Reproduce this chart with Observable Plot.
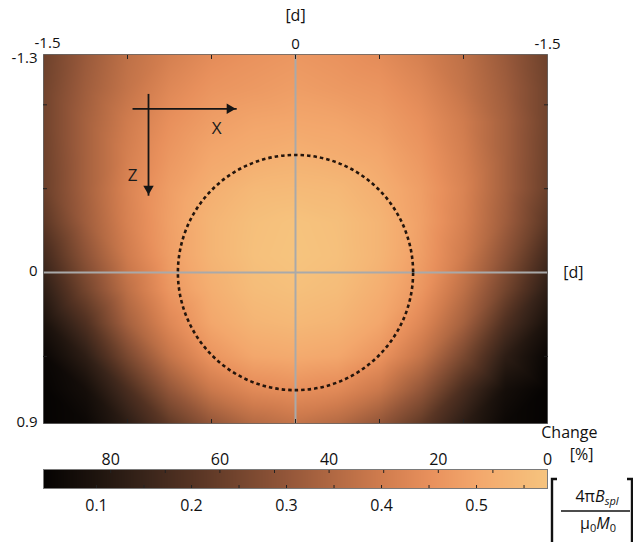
<!DOCTYPE html>
<html><head><meta charset="utf-8">
<script src="https://cdn.jsdelivr.net/npm/d3@7"></script>
<script src="https://cdn.jsdelivr.net/npm/@observablehq/plot@0.6"></script>
<style>
body{margin:0;background:#fff;font-family:"Open Sans",sans-serif}
#wrap{position:relative;width:633px;height:542px;overflow:hidden;background:#fff}
#main{position:absolute;left:0;top:0}
#cbar{position:absolute;left:0;top:410px}
svg{overflow:visible}
</style></head><body>
<div id="wrap"><div id="main"></div><div id="cbar"></div></div>
<script>
// ---- data ----
const xDomain = [-1.5, 1.5];          // [d]
const yDomain = [-1.3, 0.9];          // [d]
const xNodes = [-1.5,-1.25,-1,-0.75,-0.5,-0.25,0,0.25,0.5,0.75,1,1.25,1.5];
const yNodes = [-1.3,-1.1,-0.9,-0.7,-0.5,-0.3,-0.1,0.1,0.3,0.5,0.7,0.9];
// normalised field 4πB_spl/(μ0 M0) read at the grid nodes, one row per yNode
const row_m13 = [0.24,0.31,0.37,0.41,0.44,0.455,0.465,0.455,0.44,0.41,0.37,0.31,0.24];
const row_m11 = [0.245,0.32,0.38,0.43,0.46,0.47,0.48,0.47,0.46,0.43,0.38,0.32,0.245];
const row_m09 = [0.245,0.33,0.40,0.45,0.48,0.495,0.50,0.495,0.48,0.45,0.40,0.33,0.245];
const row_m07 = [0.24,0.33,0.41,0.465,0.50,0.515,0.525,0.515,0.50,0.465,0.41,0.33,0.24];
const row_m05 = [0.235,0.33,0.42,0.48,0.52,0.545,0.55,0.545,0.52,0.48,0.42,0.33,0.235];
const row_m03 = [0.21,0.32,0.415,0.485,0.535,0.562,0.572,0.562,0.535,0.485,0.415,0.32,0.21];
const row_m01 = [0.17,0.29,0.40,0.48,0.535,0.565,0.575,0.565,0.535,0.48,0.40,0.29,0.17];
const row_p01 = [0.13,0.25,0.37,0.465,0.52,0.555,0.565,0.555,0.52,0.465,0.37,0.25,0.13];
const row_p03 = [0.09,0.19,0.33,0.43,0.50,0.535,0.545,0.535,0.50,0.43,0.33,0.19,0.09];
const row_p05 = [0.055,0.13,0.26,0.38,0.46,0.50,0.51,0.50,0.46,0.38,0.26,0.13,0.055];
const row_p07 = [0.045,0.08,0.18,0.30,0.39,0.435,0.45,0.435,0.39,0.30,0.18,0.08,0.045];
const row_p09 = [0.044,0.06,0.13,0.22,0.30,0.355,0.38,0.355,0.30,0.22,0.13,0.06,0.044];
const fieldRows = [row_m13,row_m11,row_m09,row_m07,row_m05,row_m03,row_m01,row_p01,row_p03,row_p05,row_p07,row_p09];

const circle = [{x: 0, y: 0}];
const circleRadius = 0.70;            // [d]
const xTickMarks = [-1, -0.5, 0, 0.5, 1];
const yTickMarks = [-1, -0.5, 0.5];
const xLabelPos = [-1.5, 0, 1.5];
const xLabelText = ["-1.5", "0", "-1.5"];
const yLabelPos = [-1.3, 0, 0.9];
const yLabelText = ["-1.3", "0", "0.9"];
const arrowLines = [
  {x1: -0.97, y1: -0.976, x2: -0.35, y2: -0.976, dir: "x"},
  {x1: -0.875, y1: -1.065, x2: -0.875, y2: -0.458, dir: "z"}
];
const arrowLabels = [{t: "X", x: -0.47, y: -0.857}, {t: "Z", x: -0.97, y: -0.577}];

// colour bar
const cbDomain = [0.0442, 0.5747];
const cbVmax = 0.5747;
const cbValueTicks = [0.1, 0.2, 0.3, 0.4, 0.5];
const cbValueMinor = [0.1,0.15,0.2,0.25,0.3,0.35,0.4,0.45,0.5,0.55];
const cbChangeTicks = [80, 60, 40, 20, 0];
const cbChangeMinor = [10,20,30,40,50,60,70,80];
const colorStops = [0.044,0.1,0.15,0.2,0.25,0.3,0.35,0.4,0.45,0.5,0.575];
const colorRamp = ["#050302","#1e140e","#38241a","#553323","#74452e","#935639","#b26943","#d07c4e","#e8905c","#f3a76c","#f6c47e"];

// ---- layout ----
const W = 633, mL = 43, mR = 86;
const plotW = W - mL - mR;
const pxPerUnit = plotW / (xDomain[1] - xDomain[0]);
const colorOpts = {type: "linear", domain: colorStops, range: colorRamp, clamp: true};
const font = {fontFamily: "'Open Sans', sans-serif", fontSize: "16px", color: "#111", background: "transparent", overflow: "visible"};

const fieldNodes = fieldRows.flatMap((row, j) => row.map((v, i) => ({x: xNodes[i], y: yNodes[j], v})));
const xLabels = xLabelPos.map((x, i) => ({x, t: xLabelText[i]}));
const yLabels = yLabelPos.map((y, i) => ({y, t: yLabelText[i]}));

const main = Plot.plot({
  width: W, height: 430,
  marginLeft: mL, marginRight: mR, marginTop: 54, marginBottom: 7,
  style: font,
  x: {domain: xDomain, axis: null},
  y: {domain: yDomain, reverse: true, axis: null},
  color: colorOpts,
  marks: [
    Plot.raster(fieldNodes, {x: "x", y: "y", fill: "v", interpolate: "barycentric", x1: xDomain[0], x2: xDomain[1], y1: yDomain[0], y2: yDomain[1], pixelSize: 1}),
    Plot.ruleX([0], {stroke: "#a9a9a9", strokeWidth: 2}),
    Plot.ruleY([0], {stroke: "#a9a9a9", strokeWidth: 2}),
    Plot.dot(circle, {x: "x", y: "y", r: circleRadius * pxPerUnit, fill: "none", stroke: "#24150c", strokeWidth: 2.6, strokeDasharray: "3.5,3"}),
    Plot.link(arrowLines, {x1: "x1", y1: "y1", x2: "x2", y2: "y2", stroke: "#151515", strokeWidth: 1.8}),
    Plot.dot(arrowLines.filter(d => d.dir === "x"), {x: "x2", y: "y2", symbol: "triangle2", r: 5, rotate: 90, dx: -7, fill: "#151515"}),
    Plot.dot(arrowLines.filter(d => d.dir === "z"), {x: "x2", y: "y2", symbol: "triangle2", r: 5, rotate: 180, dy: -7, fill: "#151515"}),
    Plot.text(arrowLabels, {x: "x", y: "y", text: "t", fontSize: 17, fill: "#1a1a1a"}),
    Plot.frame({stroke: "#333", strokeOpacity: 0.6}),
    Plot.axisX(xTickMarks, {anchor: "top", tickSize: -4, tickFormat: () => "", label: null, stroke: "#222"}),
    Plot.axisX(xTickMarks, {anchor: "bottom", tickSize: -4, tickFormat: () => "", label: null, stroke: "#222"}),
    Plot.axisY(yTickMarks, {anchor: "left", tickSize: -4, tickFormat: () => "", label: null, stroke: "#222"}),
    Plot.axisY(yTickMarks, {anchor: "right", tickSize: -4, tickFormat: () => "", label: null, stroke: "#222"}),
    // top tick labels (left one nudged right, as in the original)
    Plot.text(xLabels.slice(0, 1), {x: "x", text: "t", frameAnchor: "top", dx: 4, dy: -17, fontSize: 15, fill: "#111"}),
    Plot.text(xLabels.slice(1), {x: "x", text: "t", frameAnchor: "top", dy: -16, fontSize: 15, fill: "#111"}),
    // left tick labels
    Plot.text(yLabels.slice(0, 1), {y: "y", text: "t", frameAnchor: "left", textAnchor: "end", dx: -6, dy: 4, fontSize: 15, fill: "#111"}),
    Plot.text(yLabels.slice(1), {y: "y", text: "t", frameAnchor: "left", textAnchor: "end", dx: -6, dy: -1, fontSize: 15, fill: "#111"}),
    Plot.text(["[d]"], {x: () => 0, frameAnchor: "top", dy: -45, fontSize: 16, fill: "#111"}),
    Plot.text(["[d]"], {y: () => 0, frameAnchor: "right", dx: 36, fontSize: 16, fill: "#111"})
  ]
});
document.getElementById("main").appendChild(main);

const cb = Plot.plot({
  width: W, height: 132,
  marginLeft: mL, marginRight: mR, marginTop: 59, marginBottom: 54,
  style: font,
  x: {domain: cbDomain, axis: null},
  y: {domain: [0, 1], axis: null},
  color: colorOpts,
  marks: [
    Plot.raster({x1: cbDomain[0], x2: cbDomain[1], y1: 0, y2: 1, fill: (x, y) => x, pixelSize: 1}),
    Plot.frame({stroke: "#7a7a7a"}),
    Plot.axisX(cbValueMinor, {anchor: "bottom", tickSize: -3, tickFormat: () => "", label: null, stroke: "#222"}),
    Plot.axisX(cbChangeMinor.map(c => cbVmax * (1 - c / 100)), {anchor: "top", tickSize: -3, tickFormat: () => "", label: null, stroke: "#222"}),
    Plot.text(cbValueTicks, {x: d => d, text: d => d.toFixed(1), frameAnchor: "bottom", dy: 22, fontSize: 16, fill: "#111"}),
    Plot.text(cbChangeTicks, {x: c => cbVmax * (1 - c / 100), text: d => String(d), frameAnchor: "top", dy: -16, fontSize: 16, fill: "#111"}),
    Plot.text(["Change"], {frameAnchor: "top-right", dx: 50, dy: -43, fontSize: 16, fill: "#111"}),
    Plot.text(["[%]"], {frameAnchor: "top-right", dx: 46, dy: -21, fontSize: 16, fill: "#111"})
  ]
});
document.getElementById("cbar").appendChild(cb);

// unit label: [ 4πB_spl / μ0 M0 ]
const g = d3.select(cb).append("g").attr("fill", "#111").attr("font-family", "'Open Sans', sans-serif").attr("font-size", 16);
const num = g.append("text").attr("x", 597).attr("y", 92).attr("text-anchor", "middle");
num.append("tspan").text("4π");
num.append("tspan").attr("font-style", "italic").text("B");
num.append("tspan").attr("font-style", "italic").attr("font-size", 11).attr("dy", 3).text("spl");
g.append("line").attr("x1", 561).attr("x2", 630).attr("y1", 101).attr("y2", 101).attr("stroke", "#111").attr("stroke-width", 1.4);
const den = g.append("text").attr("x", 598).attr("y", 119).attr("text-anchor", "middle");
den.append("tspan").text("μ");
den.append("tspan").attr("font-size", 11).attr("dy", 3).text("0");
den.append("tspan").attr("font-style", "italic").attr("dy", -3).text("M");
den.append("tspan").attr("font-size", 11).attr("dy", 3).text("0");
g.append("path").attr("d", "M557,69 H552 V140 H557").attr("fill", "none").attr("stroke", "#111").attr("stroke-width", 2.4);
g.append("path").attr("d", "M627,69 H632 V140 H627").attr("fill", "none").attr("stroke", "#111").attr("stroke-width", 2.4);
</script>
</body></html>
